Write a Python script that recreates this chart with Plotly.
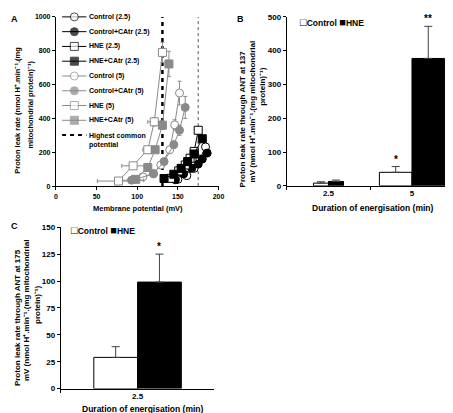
import plotly.graph_objects as go

W, H = 453, 413


def px(x):
    return x / W


def py(y):
    return 1 - y / H


# ---------------- Panel A data ----------------
ctrl25_mv = [150, 161, 170, 177, 184]
ctrl25_leak = [40, 62, 105, 160, 232]
ctrl25_catr_mv = [147, 157, 167, 175, 180, 186]
ctrl25_catr_leak = [38, 72, 105, 130, 160, 195]
hne25_mv = [141, 151, 159, 165, 170, 175]
hne25_leak = [46, 90, 125, 165, 205, 330]
hne25_catr_mv = [133, 145, 154, 162, 170, 180]
hne25_catr_leak = [45, 70, 105, 145, 190, 280]

ctrl5_mv = [107, 120, 129, 140, 146, 152]
ctrl5_leak = [55, 75, 125, 215, 362, 550]
ctrl5_mv_err = [4, 3, 3, 3, 3, 3]
ctrl5_leak_err = [5, 10, 10, 20, 30, 70]
ctrl5_catr_mv = [93, 120, 133, 145, 152, 159]
ctrl5_catr_leak = [35, 72, 145, 245, 330, 465]
ctrl5_catr_mv_err = [15, 3, 3, 3, 3, 3]
ctrl5_catr_leak_err = [5, 10, 15, 20, 30, 65]
hne5_mv = [77, 95, 113, 121, 131]
hne5_leak = [30, 120, 215, 380, 790]
hne5_mv_err = [26, 14, 6, 8, 3]
hne5_leak_err = [5, 10, 20, 25, 60]
hne5_catr_mv = [98, 113, 122, 131, 139]
hne5_catr_leak = [40, 110, 215, 360, 722]
hne5_catr_mv_err = [5, 4, 4, 4, 4]
hne5_catr_leak_err = [5, 10, 15, 25, 75]

highest_common_potential = 131
b_potential_line = 175

# ---------------- Panel B data ----------------
b_categories = ["2.5", "5"]
b_control = [8, 40]
b_control_err = [4, 17]
b_hne = [13, 377]
b_hne_err = [4, 95]
b_bar_width = [0.18, 0.39]
b_control_stars = ["", "*"]
b_hne_stars = ["", "**"]

# ---------------- Panel C data ----------------
c_categories = ["2.5"]
c_control = [29]
c_control_err = [10]
c_hne = [99]
c_hne_err = [26]
c_bar_width = [0.285]
c_control_stars = [""]
c_hne_stars = ["*"]

BLACK = "#000000"
GRAY = "#8a8a8a"
FONT = "Liberation Sans"

series = [
    # name, x, y, xerr, yerr, color, symbol, fill
    ("Control (2.5)", ctrl25_mv, ctrl25_leak, None, None, BLACK, "circle", "white"),
    ("Control+CAtr (2.5)", ctrl25_catr_mv, ctrl25_catr_leak, None, None, BLACK, "circle", BLACK),
    ("HNE (2.5)", hne25_mv, hne25_leak, None, None, BLACK, "square", "white"),
    ("HNE+CAtr (2.5)", hne25_catr_mv, hne25_catr_leak, None, None, BLACK, "square", BLACK),
    ("Control (5)", ctrl5_mv, ctrl5_leak, ctrl5_mv_err, ctrl5_leak_err, GRAY, "circle", "white"),
    ("Control+CAtr (5)", ctrl5_catr_mv, ctrl5_catr_leak, ctrl5_catr_mv_err, ctrl5_catr_leak_err, GRAY, "circle", GRAY),
    ("HNE (5)", hne5_mv, hne5_leak, hne5_mv_err, hne5_leak_err, GRAY, "square", "white"),
    ("HNE+CAtr (5)", hne5_catr_mv, hne5_catr_leak, hne5_catr_mv_err, hne5_catr_leak_err, GRAY, "square", GRAY),
]

fig = go.Figure()

# reference lines
fig.add_trace(go.Scatter(
    x=[b_potential_line, b_potential_line], y=[0, 1000], mode="lines",
    line=dict(color="#555555", width=1, dash="dot"), showlegend=False,
    xaxis="x", yaxis="y", hoverinfo="skip"))
fig.add_trace(go.Scatter(
    x=[highest_common_potential, highest_common_potential], y=[0, 1000], mode="lines",
    line=dict(color=BLACK, width=2.5, dash="4px,4px"), showlegend=False,
    xaxis="x", yaxis="y", hoverinfo="skip"))

# draw gray (5 min) first, black (2.5 min) on top
for s in series[4:] + series[:4]:
    name, xs, ys, xe, ye, col, sym, fill = s
    tr = go.Scatter(
        x=xs, y=ys, mode="lines+markers", name=name, showlegend=False,
        line=dict(color=col, width=1),
        marker=dict(symbol=sym, size=8, color=fill, line=dict(color=col, width=1)),
        xaxis="x", yaxis="y")
    if xe is not None:
        tr.error_x = dict(type="data", array=xe, color=col, thickness=1, width=2)
    if ye is not None:
        tr.error_y = dict(type="data", array=ye, color=col, thickness=1, width=2)
    fig.add_trace(tr)

# manual legend for panel A (on its own hidden axes)
annotations = []
legend_rows = [s[0] for s in series] + ["Highest common<br>potential"]
for i, s in enumerate(series):
    name, xs, ys, xe, ye, col, sym, fill = s
    fig.add_trace(go.Scatter(
        x=[0, 0.5, 1], y=[i, i, i], mode="lines+markers", showlegend=False,
        line=dict(color=col, width=1),
        marker=dict(symbol=sym, size=[0, 8, 0], color=fill, line=dict(color=col, width=1)),
        xaxis="x4", yaxis="y4", hoverinfo="skip"))
    annotations.append(dict(x=1, y=i, xref="x4", yref="y4", text=name, showarrow=False,
                            xanchor="left", yanchor="middle", xshift=0,
                            font=dict(family=FONT, size=7, color=BLACK, weight="bold")))
hcp_row = len(series)
fig.add_trace(go.Scatter(
    x=[0, 1], y=[hcp_row, hcp_row], mode="lines", showlegend=False,
    line=dict(color=BLACK, width=2, dash="4px,4px"),
    xaxis="x4", yaxis="y4", hoverinfo="skip"))
annotations.append(dict(x=1, y=hcp_row, xref="x4", yref="y4", text=legend_rows[-1],
                        showarrow=False, xanchor="left", yanchor="top", yshift=5, xshift=0,
                        align="left",
                        font=dict(family=FONT, size=7, color=BLACK, weight="bold")))

# ---------------- Panel B bars ----------------
fig.add_trace(go.Bar(
    x=b_categories, y=b_control, name="Control", width=b_bar_width,
    offset=[-w for w in b_bar_width],
    marker=dict(color="white", line=dict(color=BLACK, width=1)),
    error_y=dict(type="data", array=b_control_err, arrayminus=[0] * len(b_control_err),
                 symmetric=False, color="#404040", thickness=1, width=4),
    xaxis="x2", yaxis="y2", showlegend=False))
fig.add_trace(go.Bar(
    x=b_categories, y=b_hne, name="HNE", width=b_bar_width,
    offset=[0] * len(b_bar_width),
    marker=dict(color=BLACK, line=dict(color=BLACK, width=1)),
    error_y=dict(type="data", array=b_hne_err, arrayminus=[0] * len(b_hne_err),
                 symmetric=False, color="#404040", thickness=1, width=4),
    xaxis="x2", yaxis="y2", showlegend=False))
for i in range(len(b_categories)):
    w = b_bar_width[i]
    if b_control_stars[i]:
        annotations.append(dict(x=i - w / 2, y=b_control[i] + b_control_err[i], xref="x2", yref="y2",
                                text=b_control_stars[i], showarrow=False, yanchor="bottom",
                                font=dict(family=FONT, size=10, color=BLACK, weight="bold")))
    if b_hne_stars[i]:
        annotations.append(dict(x=i + w / 2, y=b_hne[i] + b_hne_err[i], xref="x2", yref="y2",
                                text=b_hne_stars[i], showarrow=False, yanchor="bottom",
                                font=dict(family=FONT, size=10, color=BLACK, weight="bold")))

# ---------------- Panel C bars ----------------
fig.add_trace(go.Bar(
    x=c_categories, y=c_control, name="Control", width=c_bar_width,
    offset=[-w for w in c_bar_width],
    marker=dict(color="white", line=dict(color=BLACK, width=1)),
    error_y=dict(type="data", array=c_control_err, arrayminus=[0] * len(c_control_err),
                 symmetric=False, color="#404040", thickness=1, width=4),
    xaxis="x3", yaxis="y3", showlegend=False))
fig.add_trace(go.Bar(
    x=c_categories, y=c_hne, name="HNE", width=c_bar_width,
    offset=[0] * len(c_bar_width),
    marker=dict(color=BLACK, line=dict(color=BLACK, width=1)),
    error_y=dict(type="data", array=c_hne_err, arrayminus=[0] * len(c_hne_err),
                 symmetric=False, color="#404040", thickness=1, width=4),
    xaxis="x3", yaxis="y3", showlegend=False))
for i in range(len(c_categories)):
    w = c_bar_width[i]
    if c_control_stars[i]:
        annotations.append(dict(x=i - w / 2, y=c_control[i] + c_control_err[i], xref="x3", yref="y3",
                                text=c_control_stars[i], showarrow=False, yanchor="bottom",
                                font=dict(family=FONT, size=10, color=BLACK, weight="bold")))
    if c_hne_stars[i]:
        annotations.append(dict(x=i + w / 2, y=c_hne[i] + c_hne_err[i], xref="x3", yref="y3",
                                text=c_hne_stars[i], showarrow=False, yanchor="bottom",
                                font=dict(family=FONT, size=10, color=BLACK, weight="bold")))


def text_ann(x, y, text, size=8, angle=0, xanchor="center", yanchor="middle", align="center"):
    return dict(x=px(x), y=py(y), xref="paper", yref="paper", text=text, showarrow=False,
                textangle=angle, xanchor=xanchor, yanchor=yanchor, align=align,
                font=dict(family=FONT, size=size, color=BLACK, weight="bold"))


UNITS = "(nmol H\u207a.min\u207b\u00b9.(mg"
PROT = "protein)\u207b\u00b9)"
SQ = "<span style='font-size:11px'>\u25a1</span>"
BSQ = "<span style='font-size:11px'>\u25a0</span>"
annotations += [
    # panel letters
    text_ann(5, 7, "A", size=9),
    text_ann(235, 7, "B", size=9),
    text_ann(5, 219, "C", size=9),
    # panel A titles
    text_ann(8, 100, "Proton leak rate " + UNITS, size=7.5, angle=-90),
    text_ann(21, 95, "mitochondrial " + PROT, size=7.5, angle=-90),
    text_ann(130, 201, "Membrane potential (mV)", size=7.5),
    # panel B titles
    text_ann(237, 109, "Proton leak rate through ANT at 137", size=8, angle=-90),
    text_ann(247, 102, "mV " + UNITS + " mitochondrial", size=8, angle=-90),
    text_ann(257, 76, PROT, size=8, angle=-90),
    text_ann(370, 200, "Duration of energisation (min)", size=8.5),
    text_ann(293, 10, SQ + "Control " + BSQ + "HNE", size=8.5, xanchor="left"),
    # panel C titles
    text_ann(7, 312, "Proton leak rate through ANT at 175", size=8, angle=-90),
    text_ann(17, 305, "mV " + UNITS + " mitochondrial", size=8, angle=-90),
    text_ann(28, 300, PROT, size=8, angle=-90),
    text_ann(135, 406, "Duration of energisation (min)", size=8.5),
    text_ann(60, 223, SQ + "Control " + BSQ + "HNE", size=8.5, xanchor="left"),
]

axis_common = dict(showline=True, linecolor=BLACK, linewidth=1, ticks="outside", ticklen=3,
                   tickcolor=BLACK, showgrid=False, zeroline=False, fixedrange=True)
tickfont_small = dict(family=FONT, size=7, color=BLACK, weight="bold")
tickfont = dict(family=FONT, size=8, color=BLACK, weight="bold")

fig.update_layout(
    width=W, height=H,
    margin=dict(l=0, r=0, t=0, b=0),
    paper_bgcolor="white", plot_bgcolor="white",
    font=dict(family=FONT, size=8, color=BLACK, weight="bold"),
    barmode="overlay",
    showlegend=False,
    xaxis=dict(domain=[px(46.7), px(212.3)], range=[0, 200], dtick=50, anchor="y",
               tickfont=tickfont_small, **axis_common),
    yaxis=dict(domain=[py(178), py(5)], range=[0, 1000], dtick=200, anchor="x",
               tickfont=tickfont_small, **axis_common),
    xaxis2=dict(domain=[px(281.7), px(451.7)], type="category", range=[-0.5, 1.5],
                anchor="y2", tickson="boundaries", tickfont=tickfont, **axis_common),
    yaxis2=dict(domain=[py(177.7), py(5)], range=[0, 500], dtick=100, anchor="x2",
                tickfont=tickfont, **axis_common),
    xaxis3=dict(domain=[px(51.7), px(208)], type="category", range=[-0.5, 0.5],
                anchor="y3", tickson="boundaries", tickfont=tickfont, **axis_common),
    yaxis3=dict(domain=[py(385), py(220)], range=[0, 150], dtick=25, anchor="x3",
                tickfont=tickfont, **axis_common),
    xaxis4=dict(domain=[px(53), px(78)], range=[0, 1], visible=False, anchor="y4",
                fixedrange=True),
    yaxis4=dict(domain=[py(140), py(0)], range=[(140 - 5) / 15.1, -5 / 15.1], visible=False,
                anchor="x4", fixedrange=True),
    annotations=annotations,
)

fig.write_html("out.html")
